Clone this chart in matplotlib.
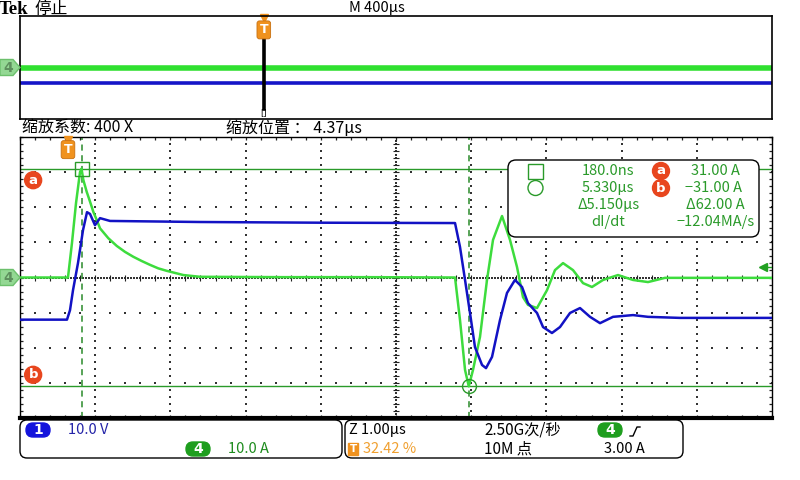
import matplotlib
matplotlib.use('Agg')
import matplotlib.pyplot as plt
import matplotlib.transforms as mtransforms
from matplotlib.patches import Polygon, FancyBboxPatch, Rectangle, Circle
import numpy as np

plt.rcParams['font.family'] = ['Noto Sans CJK SC', 'DejaVu Sans']

# --- zoom window, time in us (1.00 us/div, 10 div) ---
t_ch4 = [0.0, 0.638, 0.691, 0.745, 0.798, 0.818, 0.842, 0.887, 0.931, 0.975,
         1.020, 1.064, 1.174, 1.286, 1.396, 1.507, 1.618, 1.729, 1.839, 1.951,
         2.172, 2.394, 3.5, 4.6, 5.785, 5.851, 5.918, 5.968, 6.024, 6.117,
         6.210, 6.290, 6.410, 6.516, 6.609, 6.689, 6.755, 6.875, 7.008, 7.114,
         7.221, 7.354, 7.487, 7.606, 7.753, 7.952, 8.152, 8.351, 8.577, 10.0]
i_ch4 = [0.0, 0.0, 9.8, 21.2, 30.0, 31.0, 27.8, 24.4, 21.6, 18.7,
         16.4, 14.0, 11.2, 9.0, 7.3, 5.9, 4.7, 3.6, 2.6, 1.9,
         0.7, 0.2, 0.1, 0.1, 0.0, -12.1, -26.3, -31.0, -26.3, -16.9,
         -0.7, 10.7, 17.5, 10.7, 3.0, -5.6, -7.8, -8.7, -3.6, 2.1,
         4.1, 2.1, -1.6, -2.7, -0.7, 0.7, -0.7, -1.3, -0.1, -0.1]

t_ch1 = [0.0, 0.625, 0.665, 0.705, 0.771, 0.838, 0.891, 0.931, 0.997, 1.064,
         1.197, 2.394, 4.0, 5.785, 5.851, 5.918, 5.984, 6.050, 6.144, 6.197,
         6.277, 6.383, 6.476, 6.582, 6.676, 6.755, 6.875, 6.955, 7.074, 7.181,
         7.314, 7.447, 7.580, 7.713, 7.886, 8.152, 8.351, 8.777, 10.0]
v_ch1 = [0.0, 0.0, 2.7, 8.4, 16.1, 25.5, 30.6, 30.1, 26.9, 28.9,
         28.1, 27.8, 27.6, 27.5, 20.7, 11.3, 1.9, -7.8, -12.9, -13.8,
         -10.6, -0.1, 7.6, 11.3, 9.3, 4.7, 1.9, -2.1, -3.8, -2.1,
         1.9, 3.3, 0.8, -1.0, 0.8, 1.3, 0.8, 0.5, 0.5]

# --- record overview (M 400us/div) ---
ov_t = [0.0, 4000.0]
ov_i = [0.0, 0.0]
ov_v = [0.0, 0.0]

ch1_scale, ch1_pos = 10.0, -1.2   # V/div, div
ch4_scale, ch4_pos = 10.0, 0.0    # A/div, div
trig_t = 0.638          # us into zoom window
trig_pct = 32.42
trig_level = 3.0
cur1_rel, cur2_rel = 0.180, 5.330   # us after trigger
cur_a, cur_b = 31.0, -31.0          # A

G_TRACE = '#3ddc3d'
B_TRACE = '#1212c4'
G_CUR = '#2a9a2a'
ORANGE = '#f0921e'
RED_O = '#e8461e'

def d4(a):
    return np.asarray(a) / ch4_scale + ch4_pos

def d1(v):
    return np.asarray(v) / ch1_scale + ch1_pos

fig = plt.figure(figsize=(8, 4.8), dpi=100)

# ---------------- overview ----------------
axo = fig.add_axes([20/800, (480-119)/480, 752/800, 103/480])
axo.set_xlim(0, 4000)
axo.set_ylim(-4, 4)
axo.set_xticks([]); axo.set_yticks([])
for s in axo.spines.values():
    s.set_linewidth(1.2)
axo.plot(ov_t, d4(ov_i), color='#30e030', lw=4, solid_capstyle='butt')
axo.plot(ov_t, d1(ov_v), color='#1515c8', lw=2.6, solid_capstyle='butt')
tx = trig_pct / 100 * 4000
bt = mtransforms.blended_transform_factory(axo.transData, axo.transAxes)
axo.plot([tx, tx], [0.10, 0.79], color='black', lw=2.6, transform=bt)
axo.plot([tx], [0.985], marker='v', ms=6, color=ORANGE, transform=bt, clip_on=False)
axo.text(tx, 0.865, 'T', transform=bt, ha='center', va='center', color='white',
         fontsize=9, fontweight='bold', family='DejaVu Sans',
         bbox=dict(boxstyle='round,pad=0.2', fc=ORANGE, ec='#c87010', lw=0.6))
axo.text(tx, 0.06, '[]', transform=bt, ha='center', va='center', fontsize=6,
         family='DejaVu Sans')

# ---------------- main zoom window ----------------
ax = fig.add_axes([20/800, 62/480, 752/800, 281/480])
ax.set_xlim(0, 10)
ax.set_ylim(-4, 4)
for s in ax.spines.values():
    s.set_linewidth(1.0)
ax.spines['bottom'].set_linewidth(3.0)
ax.set_xticks(np.arange(0, 10.001, 0.2))
ax.set_yticks(np.arange(-4, 4.001, 0.2))
ax.tick_params(direction='in', length=2.5, width=0.9, top=True, right=True,
               labelbottom=False, labelleft=False, color='#222222')

dot = dict(s=1.0, c='#333333', marker='s', linewidths=0, zorder=1)
fy = np.arange(-4, 4.001, 0.2)
fx = np.arange(0, 10.001, 0.2)
for k in range(1, 10):
    if k != 5:
        ax.scatter(np.full(fy.size, k), fy, **dot)
for j in range(-3, 4):
    if j != 0:
        ax.scatter(fx, np.full(fx.size, j), **dot)
cx = np.arange(0, 10.001, 0.04)
cy = np.arange(-4, 4.001, 0.1)
ax.scatter(cx, np.zeros(cx.size), **dot)
ax.scatter(np.full(cy.size, 5), cy, **dot)
ax.scatter(fx, np.zeros(fx.size), marker='|', s=14, c='#222222', linewidths=0.8, zorder=1)
ax.scatter(np.full(fy.size, 5), fy, marker='_', s=14, c='#222222', linewidths=0.8, zorder=1)

# cursors
t1 = trig_t + cur1_rel
t2 = trig_t + cur2_rel
ax.axhline(d4(cur_a), color=G_CUR, lw=1.0, zorder=2)
ax.axhline(d4(cur_b), color=G_CUR, lw=1.0, zorder=2)
ax.axvline(t1, color='#2a8a2a', lw=1.1, ls=(0, (4, 3)), zorder=2)
ax.axvline(t2, color='#2a8a2a', lw=1.1, ls=(0, (4, 3)), zorder=2)

# traces
ax.plot(t_ch4, d4(i_ch4), color=G_TRACE, lw=1.8, zorder=3)
ax.plot(t_ch1, d1(v_ch1), color=B_TRACE, lw=1.8, zorder=4)

ax.plot([t1], [d4(cur_a)], marker='s', ms=10, mfc='none', mec=G_CUR, mew=1.0, zorder=5)
ax.plot([t2], [d4(cur_b)], marker='o', ms=10, mfc='none', mec=G_CUR, mew=1.0, zorder=5)

# trigger marker and level
btm = mtransforms.blended_transform_factory(ax.transData, ax.transAxes)
ax.plot([trig_t], [0.99], marker='v', ms=6, color=ORANGE, transform=btm, clip_on=False, zorder=6)
ax.text(trig_t, 0.955, 'T', transform=btm, ha='center', va='center', color='white',
        fontsize=9, fontweight='bold', family='DejaVu Sans', zorder=6,
        bbox=dict(boxstyle='round,pad=0.2', fc=ORANGE, ec='#c87010', lw=0.6))
ax.plot([9.88], [d4(trig_level)], marker='<', ms=6, color='#22a022', zorder=6)
ax.plot([9.9, 10], [d4(trig_level)] * 2, color='#22a022', lw=1, zorder=6)

# cursor labels a / b
bl = mtransforms.blended_transform_factory(ax.transAxes, ax.transData)
for lbl, lev, off in (('a', cur_a, -0.33), ('b', cur_b, 0.33)):
    ax.text(0.0175, d4(lev) + off, lbl, transform=bl, ha='center', va='center',
            color='white', fontsize=9.5, fontweight='bold', family='DejaVu Sans', zorder=6,
            bbox=dict(boxstyle='circle,pad=0.15', fc=RED_O, ec=RED_O))

# ---------------- overlay (pixel coordinates) ----------------
ov = fig.add_axes([0, 0, 1, 1], zorder=10)
ov.set_xlim(0, 800)
ov.set_ylim(480, 0)
ov.axis('off')
ov.patch.set_alpha(0)

def px_y(axx, y):
    return 480 - axx.transData.transform((0, y))[1]

def ch_marker(y):
    ov.add_patch(Polygon([(0, y-8), (13, y-8), (20, y), (13, y+8), (0, y+8)],
                         closed=True, fc='#93d893', ec='#6cc06c', lw=1))
    ov.text(8, y, '4', ha='center', va='center', fontsize=10, color='#5d8f5d',
            fontweight='bold', family='DejaVu Sans')

ch_marker(px_y(ax, ch4_pos))
ch_marker(px_y(axo, ch4_pos))

# header
fs = 10.5
ov.text(-1, 14.5, 'Tek', ha='left', va='baseline', fontsize=13.5, fontweight='bold',
        family='Liberation Serif')
ov.text(34, 9, '停止', ha='left', va='center', fontsize=12)
ov.text(349, 8, 'M 400µs', ha='left', va='center', fontsize=fs)
ov.text(22, 128, '缩放系数: 400 X', ha='left', va='center', fontsize=11.5)
ov.text(226, 128, '缩放位置 ： 4.37µs', ha='left', va='center', fontsize=11.5)

# measurement readout
ov.add_patch(FancyBboxPatch((508, 160), 251, 77, boxstyle='round,pad=0,rounding_size=8',
                            fc='white', ec='black', lw=1))
tc = G_CUR
rows = [171, 188, 205, 222]
ov.add_patch(Rectangle((528, 164), 15, 15, fc='none', ec=tc, lw=1))
ov.add_patch(Circle((535.5, rows[1]), 7.5, fc='none', ec=tc, lw=1))
dt = cur2_rel - cur1_rel
di = cur_b - cur_a
ov.text(634, rows[0], f'{cur1_rel*1000:.1f}ns', ha='right', va='center', fontsize=fs, color=tc)
ov.text(634, rows[1], f'{cur2_rel:.3f}µs', ha='right', va='center', fontsize=fs, color=tc)
ov.text(640, rows[2], f'Δ{dt:.3f}µs', ha='right', va='center', fontsize=fs, color=tc)
ov.text(608, rows[3], 'dI/dt', ha='center', va='center', fontsize=fs, color=tc)
for lbl, yy in (('a', rows[0]), ('b', rows[1])):
    ov.text(661, yy, lbl, ha='center', va='center', color='white', fontsize=9.5,
            fontweight='bold', family='DejaVu Sans',
            bbox=dict(boxstyle='circle,pad=0.15', fc=RED_O, ec=RED_O))
ov.text(740, rows[0], f'{cur_a:.2f} A', ha='right', va='center', fontsize=fs, color=tc)
ov.text(742, rows[1], f'{cur_b:.2f} A'.replace('-', '−'), ha='right', va='center', fontsize=fs, color=tc)
ov.text(745, rows[2], f'Δ{abs(di):.2f} A', ha='right', va='center', fontsize=fs, color=tc)
ov.text(755, rows[3], f'{di/dt:.2f}MA/s'.replace('-', '−'), ha='right', va='center',
        fontsize=fs, color=tc)

# bottom status bar
ov.add_patch(FancyBboxPatch((20, 420), 322, 38, boxstyle='round,pad=0,rounding_size=7',
                            fc='white', ec='black', lw=1))
ov.add_patch(FancyBboxPatch((345, 420), 338, 38, boxstyle='round,pad=0,rounding_size=7',
                            fc='white', ec='black', lw=1))

def pill(x, y, s, color):
    ov.add_patch(FancyBboxPatch((x-12, y-7), 24, 14, boxstyle='round,pad=0,rounding_size=7',
                                fc=color, ec=color))
    ov.text(x, y, s, ha='center', va='center', color='white', fontsize=10,
            fontweight='bold', family='DejaVu Sans')

pill(38, 430, '1', '#1414dc')
ov.text(68, 430, f'{ch1_scale:.1f} V', ha='left', va='center', fontsize=fs, color='#2424a8')
pill(198, 449, '4', '#1e9e1e')
ov.text(228, 449, f'{ch4_scale:.1f} A', ha='left', va='center', fontsize=fs, color='#1e8c1e')
ov.text(349, 430, 'Z 1.00µs', ha='left', va='center', fontsize=fs)
ov.text(353, 449, 'T', ha='center', va='center', color='white', fontsize=7.5,
        fontweight='bold', family='DejaVu Sans',
        bbox=dict(boxstyle='square,pad=0.12', fc=ORANGE, ec=ORANGE))
ov.text(363, 449, f'{trig_pct:.2f} %', ha='left', va='center', fontsize=fs, color='#f0a030')
ov.text(484, 430, '2.50G次/秒', ha='left', va='center', fontsize=fs + 0.5)
ov.text(484, 449, '10M 点', ha='left', va='center', fontsize=fs + 0.5)
pill(610, 430, '4', '#1e9e1e')
ov.plot([630, 633, 637, 640], [436, 436, 427, 427], color='black', lw=1)
ov.text(604, 449, f'{trig_level:.2f} A', ha='left', va='center', fontsize=fs)

fig.savefig('out.png', dpi=100, facecolor='white')
